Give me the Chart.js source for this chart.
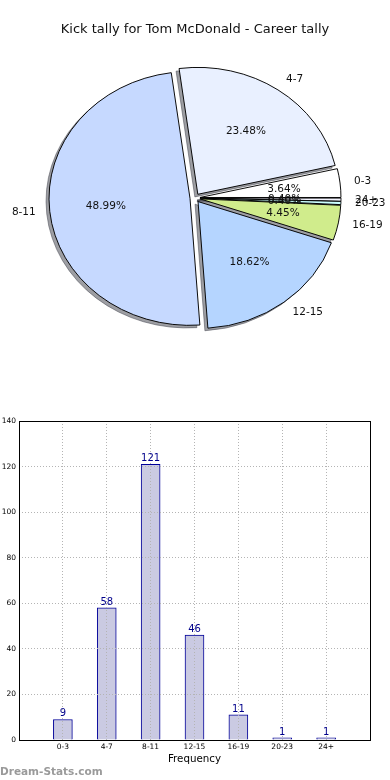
<!DOCTYPE html>
<html>
<head>
<meta charset="utf-8">
<script src="https://cdn.jsdelivr.net/npm/chart.js@4.4.1/dist/chart.umd.min.js"></script>
<style>
    html, body { margin: 0; padding: 0; background: #fff; }
    canvas { display: block; }
</style>
</head>
<body>
<canvas id="pieChart" width="390" height="400"></canvas>
<canvas id="barChart" width="390" height="380"></canvas>
<script>
// Data
const chartTitle = 'Kick tally for Tom McDonald - Career tally';
const categories = ['0-3', '4-7', '8-11', '12-15', '16-19', '20-23', '24+'];
const kickCounts = [9, 58, 121, 46, 11, 1, 1];
const sliceColors = ['#ffffff', '#e9f0ff', '#c6d9ff', '#b5d5ff', '#d0ec8c', '#ccffff', '#f4f4ff'];
const xAxisTitle = 'Frequency';
const yTickMin = 0;
const yTickMax = 140;
const yTickStep = 20;
const watermark = 'Dream-Stats.com';

const FONT = '"DejaVu Sans", sans-serif';
const EXPLODE = 5;     // px each slice is pulled out
const SQUASH = 0.9;    // pie is a bit flatter than wide

const total = kickCounts.reduce((a, b) => a + b, 0);

// matplotlib goes counter-clockwise from 3 o'clock, Chart.js clockwise -> reverse
const pieLabels = categories.slice().reverse();
const pieValues = kickCounts.slice().reverse();
const pieColors = sliceColors.slice().reverse();

// Explode, shadow, flatten and label the pie
const pieLook = {
    id: 'pieLook',
    beforeDatasetsDraw(chart) {
        const ctx = chart.ctx;
        const arcs = chart.getDatasetMeta(0).data;
        if (!arcs.length) return;
        const cx = arcs[0].x, cy = arcs[0].y;

        arcs.forEach(arc => {
            if (arc._exploded) return;
            const baseDraw = Object.getPrototypeOf(arc).draw;
            arc.draw = function (c, area) {
                const mid = (this.startAngle + this.endAngle) / 2;
                c.save();
                c.translate(Math.cos(mid) * EXPLODE, Math.sin(mid) * EXPLODE);
                baseDraw.call(this, c, area);
                c.restore();
            };
            arc._exploded = true;
        });

        ctx.save();
        ctx.translate(cx, cy);
        ctx.scale(1, SQUASH);
        ctx.translate(-cx, -cy);

        // shadows only: draw shapes off canvas, let the shadow land back
        ctx.save();
        ctx.shadowColor = 'rgba(60, 62, 72, 0.5)';
        ctx.shadowBlur = 0;
        ctx.shadowOffsetX = 10000 - 3;
        ctx.shadowOffsetY = 2.6;
        ctx.translate(-10000, 0);
        arcs.forEach(arc => arc.draw(ctx));
        ctx.restore();
    },
    afterDatasetsDraw(chart) {
        const ctx = chart.ctx;
        ctx.restore();

        const arcs = chart.getDatasetMeta(0).data;
        ctx.save();
        ctx.font = '10.5px ' + FONT;
        ctx.fillStyle = '#111';
        ctx.textBaseline = 'middle';
        arcs.forEach((arc, i) => {
            const mid = (arc.startAngle + arc.endAngle) / 2;
            const c = Math.cos(mid), s = Math.sin(mid);
            const r = arc.outerRadius;
            const lr = EXPLODE + 1.1 * r;
            const pr = EXPLODE + 0.6 * r;
            ctx.textAlign = c >= 0 ? 'left' : 'right';
            ctx.fillText(pieLabels[i], arc.x + lr * c, arc.y + lr * s * SQUASH);
            ctx.textAlign = 'center';
            ctx.fillText((pieValues[i] / total * 100).toFixed(2) + '%', arc.x + pr * c, arc.y + pr * s * SQUASH);
        });
        ctx.restore();
    }
};

new Chart(document.getElementById('pieChart'), {
    type: 'pie',
    data: {
        labels: pieLabels,
        datasets: [{
            data: pieValues,
            backgroundColor: pieColors,
            borderColor: '#000',
            borderWidth: 1,
            clip: false
        }]
    },
    options: {
        responsive: false,
        animation: false,
        rotation: 90,
        layout: { padding: { top: 0, right: 0, bottom: 60.5, left: 0 } },
        plugins: {
            legend: { display: false },
            tooltip: { enabled: false },
            title: {
                display: true,
                text: chartTitle,
                color: '#111',
                font: { family: FONT, size: 13, weight: 'normal' },
                padding: { top: 22, bottom: 18.9 }
            }
        }
    },
    plugins: [pieLook]
});

// Frame, value labels and watermark for the bar chart
const barExtras = {
    id: 'barExtras',
    afterDraw(chart) {
        const ctx = chart.ctx;
        const a = chart.chartArea;
        ctx.save();
        ctx.strokeStyle = '#000';
        ctx.lineWidth = 1;
        ctx.strokeRect(a.left + 0.5, a.top + 0.5, a.right - a.left, a.bottom - a.top);

        ctx.font = '10px ' + FONT;
        ctx.fillStyle = '#00008b';
        ctx.textAlign = 'center';
        ctx.textBaseline = 'alphabetic';
        chart.getDatasetMeta(0).data.forEach((bar, i) => {
            ctx.fillText(String(kickCounts[i]), bar.x, bar.y - 3);
        });

        ctx.font = 'bold 10.5px ' + FONT;
        ctx.fillStyle = '#9a9a9a';
        ctx.textAlign = 'left';
        ctx.fillText(watermark, 0, 775 - 400);
        ctx.restore();
    }
};

// border.dash styles the grid lines in v4; the frame itself is drawn by barExtras
const gridLook = { color: '#b4b4b4', lineWidth: 1, drawTicks: false, offset: false, z: 1 };
const borderLook = { display: false, dash: [1, 2] };

new Chart(document.getElementById('barChart'), {
    type: 'bar',
    data: {
        datasets: [{
            data: kickCounts.map((v, i) => ({ x: i, y: v })),
            backgroundColor: '#cacae2',
            borderColor: '#000099',
            borderWidth: 1,
            barThickness: 19
        }]
    },
    options: {
        responsive: false,
        animation: false,
        layout: { padding: { top: 21, right: 20, bottom: 0, left: 0 } },
        plugins: {
            legend: { display: false },
            tooltip: { enabled: false }
        },
        scales: {
            x: {
                type: 'linear',
                min: -1,
                max: 7,
                offset: false,
                afterFit: s => { s.height = 40; },
                grid: gridLook,
                border: borderLook,
                ticks: {
                    stepSize: 1,
                    autoSkip: false,
                    maxRotation: 0,
                    padding: 3,
                    color: '#000',
                    font: { family: FONT, size: 7.5 },
                    callback: v => categories[v] ?? ''
                },
                title: {
                    display: true,
                    text: xAxisTitle,
                    color: '#000',
                    font: { family: FONT, size: 10.3 },
                    padding: { top: 0, bottom: 14 }
                }
            },
            y: {
                min: yTickMin,
                max: yTickMax,
                afterFit: s => { s.width = 19; },
                grid: gridLook,
                border: borderLook,
                ticks: {
                    stepSize: yTickStep,
                    padding: 3,
                    color: '#000',
                    font: { family: FONT, size: 7.5 }
                }
            }
        }
    },
    plugins: [barExtras]
});
</script>
</body>
</html>
